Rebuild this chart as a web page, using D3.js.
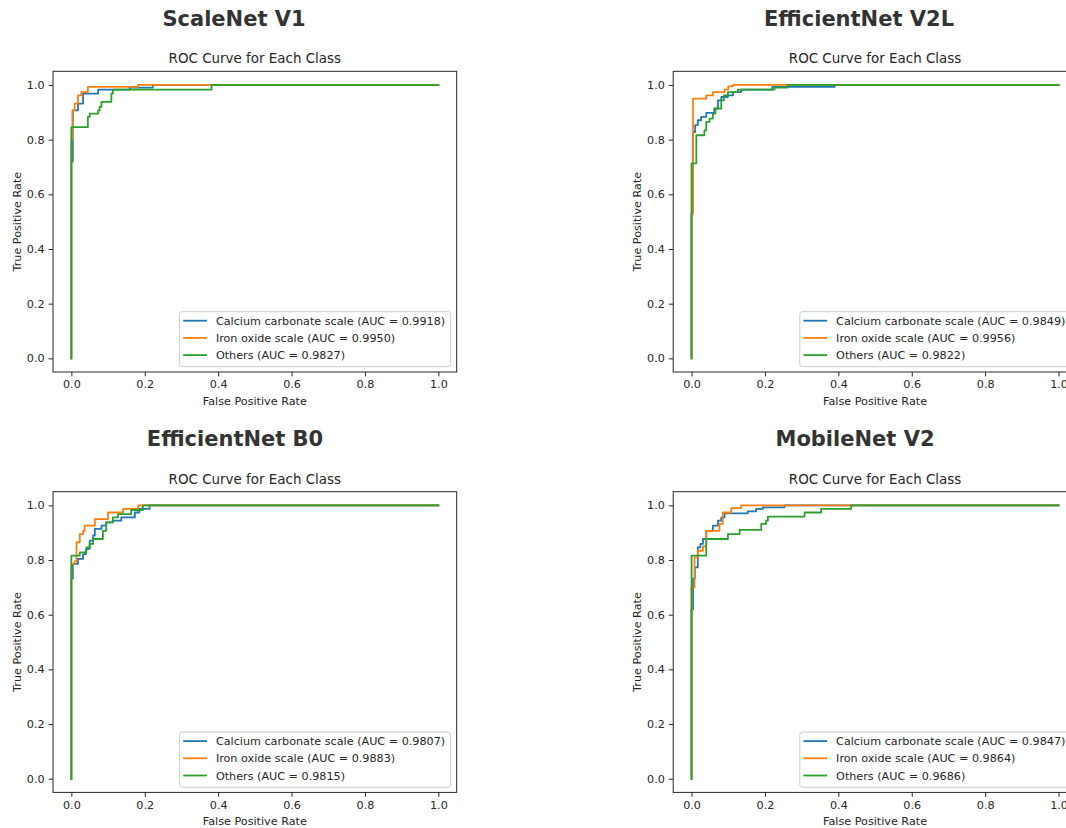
<!DOCTYPE html>
<html>
<head>
<meta charset="utf-8">
<script src="https://cdn.jsdelivr.net/npm/d3@7"></script>
<style>
  html, body { margin: 0; padding: 0; background: #fff; }
  svg { display: block; font-family: "DejaVu Sans", sans-serif; }
</style>
</head>
<body>
<svg id="chart" width="1066" height="828"></svg>
<script>
// ---------- DATA ----------
const models = ["ScaleNet V1", "EfficientNet V2L", "EfficientNet B0", "MobileNet V2"];
const classNames = ["Calcium carbonate scale", "Iron oxide scale", "Others"];
const tickValues = [0.0, 0.2, 0.4, 0.6, 0.8, 1.0];

const aucScaleNet = [0.9918, 0.9950, 0.9827];
const aucEffV2L = [0.9849, 0.9956, 0.9822];
const aucEffB0 = [0.9807, 0.9883, 0.9815];
const aucMobile = [0.9847, 0.9864, 0.9686];

// ScaleNet V1
const scaleNetCalciumFpr = [0, 0, 0.004, 0.018, 0.032, 0.073, 0.159, 0.222, 1];
const scaleNetCalciumTpr = [0, 0.72, 0.907, 0.932, 0.968, 0.983, 0.99, 1.0, 1.0];
const scaleNetIronFpr = [0, 0, 0.003, 0.009, 0.018, 0.027, 0.045, 0.182, 1];
const scaleNetIronTpr = [0, 0.80, 0.907, 0.932, 0.962, 0.974, 0.993, 1.0, 1.0];
const scaleNetOthersFpr = [0, 0, 0.045, 0.05, 0.073, 0.077, 0.082, 0.109, 0.113, 0.382, 1];
const scaleNetOthersTpr = [0, 0.846, 0.883, 0.895, 0.907, 0.92, 0.938, 0.968, 0.983, 1.0, 1.0];

// EfficientNet V2L
const effV2LCalciumFpr = [0, 0, 0.004, 0.01, 0.017, 0.026, 0.04, 0.062, 0.072, 0.081, 0.099, 0.113, 0.135, 0.22, 0.39, 1];
const effV2LCalciumTpr = [0, 0.53, 0.828, 0.853, 0.871, 0.883, 0.898, 0.914, 0.944, 0.956, 0.962, 0.974, 0.983, 0.993, 1.0, 1.0];
const effV2LIronFpr = [0, 0, 0.004, 0.04, 0.058, 0.09, 0.1, 0.113, 1];
const effV2LIronTpr = [0, 0.53, 0.95, 0.962, 0.974, 0.983, 0.995, 1.0, 1.0];
const effV2LOthersFpr = [0, 0, 0.013, 0.035, 0.04, 0.049, 0.058, 0.065, 0.081, 0.088, 0.099, 0.126, 0.226, 0.262, 1];
const effV2LOthersTpr = [0, 0.713, 0.816, 0.834, 0.865, 0.877, 0.895, 0.914, 0.944, 0.962, 0.974, 0.983, 0.99, 1.0, 1.0];

// EfficientNet B0
const effB0CalciumFpr = [0, 0, 0.004, 0.018, 0.032, 0.04, 0.05, 0.059, 0.064, 0.082, 0.095, 0.113, 0.136, 0.173, 0.185, 0.213, 1];
const effB0CalciumTpr = [0, 0.732, 0.786, 0.804, 0.822, 0.841, 0.871, 0.89, 0.914, 0.926, 0.938, 0.944, 0.956, 0.974, 0.987, 1.0, 1.0];
const effB0IronFpr = [0, 0, 0.009, 0.014, 0.023, 0.032, 0.036, 0.064, 0.1, 0.141, 0.182, 1];
const effB0IronTpr = [0, 0.786, 0.795, 0.865, 0.895, 0.907, 0.926, 0.95, 0.974, 0.987, 1.0, 1.0];
const effB0OthersFpr = [0, 0, 0.023, 0.041, 0.05, 0.059, 0.086, 0.095, 0.113, 0.127, 0.163, 0.195, 1];
const effB0OthersTpr = [0, 0.816, 0.828, 0.846, 0.859, 0.877, 0.907, 0.938, 0.956, 0.968, 0.983, 1.0, 1.0];

// MobileNet V2
const mobileCalciumFpr = [0, 0, 0.004, 0.009, 0.017, 0.024, 0.031, 0.04, 0.058, 0.072, 0.081, 0.09, 0.153, 0.176, 0.194, 0.253, 1];
const mobileCalciumTpr = [0, 0.62, 0.732, 0.773, 0.846, 0.859, 0.877, 0.907, 0.926, 0.944, 0.956, 0.971, 0.978, 0.987, 0.993, 1.0, 1.0];
const mobileIronFpr = [0, 0, 0.008, 0.017, 0.031, 0.04, 0.076, 0.085, 0.108, 0.135, 1];
const mobileIronTpr = [0, 0.70, 0.81, 0.834, 0.85, 0.907, 0.932, 0.974, 0.99, 1.0, 1.0];
const mobileOthersFpr = [0, 0, 0.04, 0.099, 0.131, 0.19, 0.203, 0.208, 0.308, 0.353, 0.435, 1];
const mobileOthersTpr = [0, 0.816, 0.877, 0.895, 0.91, 0.932, 0.944, 0.959, 0.974, 0.987, 1.0, 1.0];

// ---------- BUILD ----------
const colors = ["#1f77b4", "#ff7f0e", "#2ca02c"];
const panels = [
  { title: models[0], auc: aucScaleNet, fpr: [scaleNetCalciumFpr, scaleNetIronFpr, scaleNetOthersFpr], tpr: [scaleNetCalciumTpr, scaleNetIronTpr, scaleNetOthersTpr], left: 53, top: 71.3, titleX: 234 },
  { title: models[1], auc: aucEffV2L, fpr: [effV2LCalciumFpr, effV2LIronFpr, effV2LOthersFpr], tpr: [effV2LCalciumTpr, effV2LIronTpr, effV2LOthersTpr], left: 673.2, top: 71.3, titleX: 859 },
  { title: models[2], auc: aucEffB0, fpr: [effB0CalciumFpr, effB0IronFpr, effB0OthersFpr], tpr: [effB0CalciumTpr, effB0IronTpr, effB0OthersTpr], left: 53, top: 491.7, titleX: 235 },
  { title: models[3], auc: aucMobile, fpr: [mobileCalciumFpr, mobileIronFpr, mobileOthersFpr], tpr: [mobileCalciumTpr, mobileIronTpr, mobileOthersTpr], left: 673.2, top: 491.7, titleX: 855 }
];

const W = 403.7, H = 300.7;
const textColor = "#262626";
const svg = d3.select("#chart");
svg.append("rect").attr("width", 1066).attr("height", 828).attr("fill", "#fff");

panels.forEach(p => {
  const g = svg.append("g");
  const x = d3.scaleLinear().domain([-0.05, 1.05]).range([p.left, p.left + W]);
  const y = d3.scaleLinear().domain([-0.05, 1.05]).range([p.top + H, p.top]);

  // suptitle
  g.append("text").attr("x", p.titleX).attr("y", p.top - 45.6)
    .attr("text-anchor", "middle").attr("font-size", 21).attr("font-weight", "bold")
    .attr("fill", "#333").text(p.title);
  // axes title
  g.append("text").attr("x", p.left + W / 2).attr("y", p.top - 8)
    .attr("text-anchor", "middle").attr("font-size", 13.45).attr("fill", textColor)
    .text("ROC Curve for Each Class");

  // axes
  const xAxis = d3.axisBottom(x).tickValues(tickValues).tickFormat(d3.format(".1f")).tickSize(4.4).tickPadding(4);
  const yAxis = d3.axisLeft(y).tickValues(tickValues).tickFormat(d3.format(".1f")).tickSize(4.4).tickPadding(4);
  const gx = g.append("g").attr("transform", `translate(0,${p.top + H})`).call(xAxis);
  const gy = g.append("g").attr("transform", `translate(${p.left},0)`).call(yAxis);
  [gx, gy].forEach(a => {
    a.select(".domain").remove();
    a.selectAll(".tick line").attr("stroke", textColor).attr("stroke-width", 1);
    a.selectAll(".tick text").attr("fill", textColor).attr("font-size", 11.2)
      .attr("font-family", "DejaVu Sans");
  });

  // axis labels
  g.append("text").attr("x", p.left + W / 2).attr("y", p.top + H + 33)
    .attr("text-anchor", "middle").attr("font-size", 11.2).attr("fill", textColor)
    .text("False Positive Rate");
  g.append("text").attr("transform", `translate(${p.left - 32.5},${p.top + H / 2}) rotate(-90)`)
    .attr("text-anchor", "middle").attr("font-size", 11.2).attr("fill", textColor)
    .text("True Positive Rate");

  // curves
  const line = d3.line().x(d => x(d[0])).y(d => y(d[1])).curve(d3.curveStepAfter);
  p.fpr.forEach((f, i) => {
    const pts = f.map((v, j) => [v, p.tpr[i][j]]);
    g.append("path").datum(pts).attr("d", line).attr("fill", "none")
      .attr("stroke", colors[i]).attr("stroke-width", 1.8)
      .attr("stroke-linejoin", "round").attr("stroke-linecap", "square");
  });

  // frame
  g.append("rect").attr("x", p.left).attr("y", p.top).attr("width", W).attr("height", H)
    .attr("fill", "none").attr("stroke", textColor).attr("stroke-width", 1);

  // legend
  const labels = classNames.map((c, i) => `${c} (AUC = ${p.auc[i].toFixed(4)})`);
  const lg = g.append("g");
  const box = lg.append("rect");
  const texts = [];
  labels.forEach((t, i) => {
    texts.push(lg.append("text").attr("font-size", 11.2).attr("fill", textColor).text(t));
  });
  const maxLen = d3.max(texts, t => t.node().getComputedTextLength());
  const lw = 36.3 + maxLen + 5.5, lh = 55;
  const lx = p.left + W - 6 - lw, ly = p.top + H - 5.3 - lh;
  box.attr("x", lx).attr("y", ly).attr("width", lw).attr("height", lh).attr("rx", 2.5)
    .attr("fill", "#fff").attr("fill-opacity", 0.8).attr("stroke", "#cccccc").attr("stroke-width", 1);
  texts.forEach((t, i) => {
    const cy = ly + 9 + i * 17.2;
    lg.append("line").attr("x1", lx + 3.6).attr("x2", lx + 27.3).attr("y1", cy).attr("y2", cy)
      .attr("stroke", colors[i]).attr("stroke-width", 1.8);
    t.attr("x", lx + 36.3).attr("y", cy + 4.1);
  });
});
</script>
</body>
</html>
